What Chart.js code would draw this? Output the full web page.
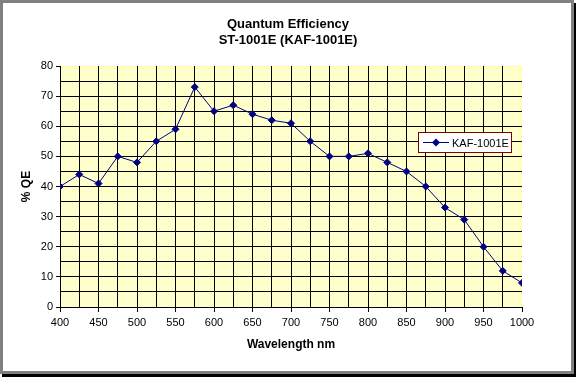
<!DOCTYPE html>
<html>
<head>
<meta charset="utf-8">
<script src="https://cdn.jsdelivr.net/npm/chart.js@4.4.1/dist/chart.umd.min.js"></script>
<style>
  html, body { margin: 0; padding: 0; background: #fff; }
  #frame {
    position: absolute; left: 0; top: 0;
    width: 568px; height: 368px;
    border: 3px solid #808080;
    box-shadow: 2px 3px 0 0 #000;
    background: #fff;
  }
  #wrap { position: absolute; left: 0; top: 0; width: 576px; height: 377px; }
</style>
</head>
<body>
<div id="frame"></div>
<div id="wrap"><canvas id="qe" width="576" height="377"></canvas></div>
<script>
// wavelength (nm) and quantum efficiency (%)
const wavelengths = [400, 425, 450, 475, 500, 525, 550, 575, 600, 625, 650, 675, 700,
                     725, 750, 775, 800, 825, 850, 875, 900, 925, 950, 975, 1000]
const qeValues = [40, 44, 41, 50, 48, 55, 59, 73, 65, 67, 64, 62, 61,
                  55, 50, 50, 51, 48, 45, 40, 33, 29, 20, 12, 8]
const seriesName = "KAF-1001E"
const titleLines = ["Quantum Efficiency", "ST-1001E (KAF-1001E)"]
const xTitle = "Wavelength nm"
const yTitle = "% QE"

const FONT = "'Liberation Sans', Arial, sans-serif"
const NAVY = "#000080"

function buildPoints(xs, ys){
    let pts = []
    xs.forEach((x, i) => {
        pts.push({x: x, y: ys[i]})
    })
    return pts
}

// pale yellow plot area like the old Excel charts
const plotBg = {
    id: "plotBg",
    beforeDraw(chart){
        const {ctx, chartArea: a} = chart
        ctx.save()
        ctx.fillStyle = "#FFFFCC"
        ctx.fillRect(a.left, a.top, a.right - a.left, a.bottom - a.top)
        ctx.strokeStyle = "#FFFF99"
        ctx.lineWidth = 1
        ctx.beginPath()
        ctx.moveTo(a.left, a.top + 0.5)
        ctx.lineTo(a.right - 0.5, a.top + 0.5)
        ctx.lineTo(a.right - 0.5, a.bottom)
        ctx.stroke()
        ctx.restore()
    }
}

// legend box sitting inside the plot, on the right
const boxLegend = {
    id: "boxLegend",
    afterDraw(chart){
        const ctx = chart.ctx
        const ds = chart.data.datasets[0]
        const x = 418.5, y = 132.5, w = 93, h = 20
        ctx.save()
        ctx.fillStyle = "#fff"
        ctx.fillRect(x, y, w, h)
        ctx.strokeStyle = "#800000"
        ctx.lineWidth = 1
        ctx.strokeRect(x, y, w, h)
        const cy = y + h / 2
        ctx.strokeStyle = NAVY
        ctx.beginPath()
        ctx.moveTo(423, cy)
        ctx.lineTo(449, cy)
        ctx.stroke()
        ctx.fillStyle = NAVY
        ctx.beginPath()
        ctx.moveTo(436, cy - 4); ctx.lineTo(440, cy); ctx.lineTo(436, cy + 4); ctx.lineTo(432, cy)
        ctx.closePath(); ctx.fill()
        ctx.fillStyle = "#000"
        ctx.font = "11px " + FONT
        ctx.textBaseline = "middle"
        ctx.fillText(ds.label, 452, cy + 1)
        ctx.restore()
    }
}

new Chart(document.getElementById("qe").getContext("2d"), {
    type: "line",
    data: {
        datasets: [{
            label: seriesName,
            data: buildPoints(wavelengths, qeValues),
            borderColor: NAVY,
            backgroundColor: NAVY,
            borderWidth: 1,
            pointStyle: "rectRot",
            pointRadius: 3.5,
            pointBorderWidth: 1,
            pointBackgroundColor: NAVY,
            pointBorderColor: NAVY,
            tension: 0
        }]
    },
    options: {
        responsive: false,
        animation: false,
        events: [],
        layout: { padding: 0 },
        plugins: {
            legend: { display: false },
            tooltip: { enabled: false },
            title: {
                display: true,
                text: titleLines,
                color: "#000",
                font: { family: FONT, size: 13, weight: "bold", lineHeight: 1.25 },
                padding: { top: 16, bottom: 17.5 }
            }
        },
        scales: {
            x: {
                type: "linear",
                min: 400, max: 1000,
                afterFit(scale){ scale.height = 70 },
                ticks: {
                    stepSize: 25,
                    autoSkip: false,
                    maxRotation: 0,
                    padding: 4,
                    color: "#000",
                    font: { family: FONT, size: 11 },
                    callback: v => (v % 50 === 0 ? v : "")
                },
                grid: {
                    color: c => (c.tick && c.tick.value === 1000 ? "rgba(0,0,0,0)" : "#000"),
                    tickColor: c => (c.tick && c.tick.value % 50 === 0 ? "#000" : "rgba(0,0,0,0)"),
                    tickLength: 5,
                    lineWidth: 1
                },
                border: { display: true, color: "#000", width: 1 },
                title: {
                    display: true,
                    text: xTitle,
                    color: "#000",
                    font: { family: FONT, size: 12, weight: "bold" },
                    padding: { top: 0, bottom: 25 }
                }
            },
            y: {
                min: 0, max: 80,
                afterFit(scale){ scale.width = 60 },
                ticks: {
                    stepSize: 5,
                    autoSkip: false,
                    padding: 3,
                    color: "#000",
                    font: { family: FONT, size: 11 },
                    callback: v => (v % 10 === 0 ? v : "")
                },
                grid: {
                    color: c => (c.tick && c.tick.value === 80 ? "rgba(0,0,0,0)" : "#000"),
                    tickColor: c => (c.tick && c.tick.value % 10 === 0 ? "#000" : "rgba(0,0,0,0)"),
                    tickLength: 4,
                    lineWidth: 1
                },
                border: { display: true, color: "#000", width: 1 },
                title: {
                    display: true,
                    text: yTitle,
                    color: "#000",
                    font: { family: FONT, size: 12, weight: "bold" },
                    padding: { top: 19, bottom: 0 }
                }
            },
            // empty right-hand axis, only keeps white space right of the plot
            spacer: {
                position: "right",
                min: 0, max: 80,
                afterFit(scale){ scale.width = 54 },
                ticks: { display: false },
                grid: { display: false, drawTicks: false },
                border: { display: false }
            }
        }
    },
    plugins: [plotBg, boxLegend]
})
</script>
</body>
</html>
